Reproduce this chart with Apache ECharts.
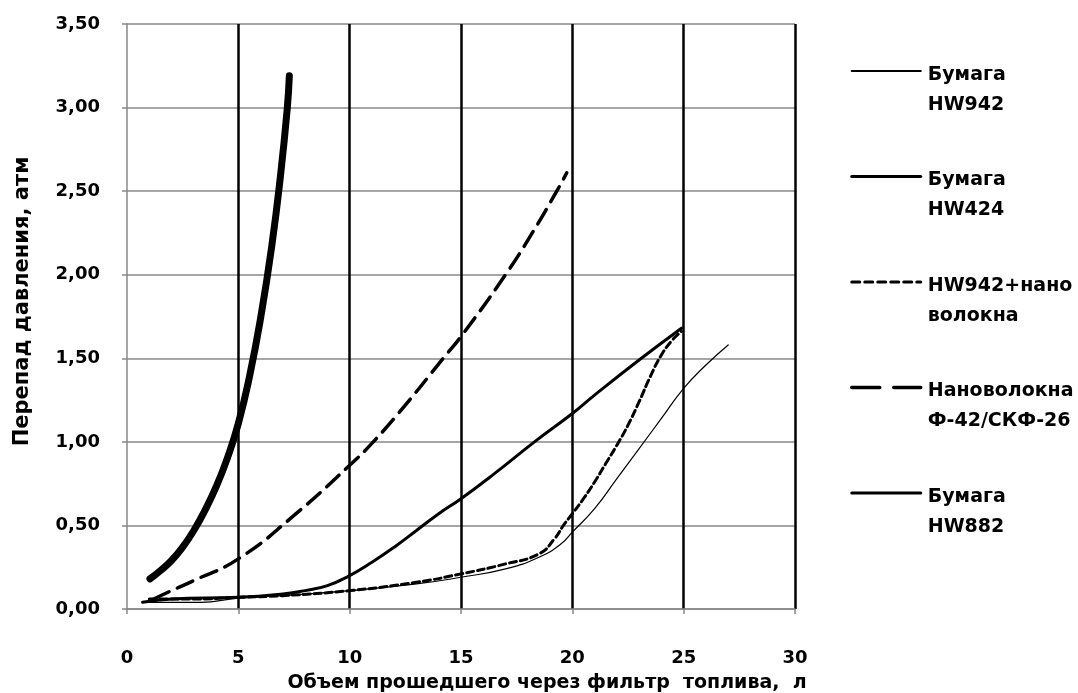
<!DOCTYPE html>
<html>
<head>
<meta charset="utf-8">
<script src="https://cdn.jsdelivr.net/npm/echarts@6/dist/echarts.min.js"></script>
<style>
html,body{margin:0;padding:0;background:#fff;}
#chart{width:1078px;height:693px;}
</style>
</head>
<body>
<div id="chart"></div>
<script>
// ---- data ----
const seriesNames = ['Бумага\nHW942', 'Бумага\nHW424', 'HW942+нано\nволокна', 'Нановолокна\nФ-42/СКФ-26', 'Бумага\nHW882'];
const xTitle = 'Объем прошедшего через фильтр  топлива,  л';
const yTitle = 'Перепад давления, атм';
const yTickLabels = ['0,00', '0,50', '1,00', '1,50', '2,00', '2,50', '3,00', '3,50'];

const hw942 = [[1,0.04],[3.3,0.04],[5,0.065],[7,0.08],[10,0.11],[13,0.15],[15,0.19],[17,0.24],[18.5,0.31],[19.5,0.39],[20,0.46],[21,0.6],[22,0.78],[23,0.96],[24,1.14],[25,1.32],[26,1.46],[27,1.58]];
const hw424 = [[0.7,0.04],[2,0.06],[5,0.07],[7,0.09],[8,0.11],[9,0.14],[10,0.2],[11,0.28],[12,0.37],[13,0.47],[14,0.57],[15,0.66],[16.5,0.81],[18.3,1.0],[20,1.17],[21,1.28],[23.1,1.5],[24.9,1.68]];
const hw942nano = [[1,0.06],[3,0.06],[5,0.07],[7,0.08],[10,0.11],[13,0.16],[15,0.21],[17,0.27],[18.5,0.33],[19.2,0.42],[19.6,0.5],[20,0.57],[20.5,0.66],[21,0.76],[21.5,0.87],[22,0.98],[22.5,1.1],[23,1.24],[23.5,1.39],[24,1.52],[24.5,1.61],[24.9,1.66]];
const nanoF42 = [[1.2,0.06],[2,0.11],[3,0.17],[5,0.3],[7.5,0.56],[10,0.86],[11.06,1.0],[12.5,1.22],[14.2,1.5],[15,1.63],[17,2.0],[18.2,2.25],[19.3,2.5],[19.75,2.61]];
const hw882 = [[1.03,0.18],[1.5,0.23],[2,0.29],[2.5,0.37],[3,0.47],[3.5,0.59],[4,0.73],[4.5,0.9],[5,1.11],[5.5,1.39],[6,1.74],[6.5,2.17],[6.9,2.6],[7.2,3.0],[7.29,3.19]];

const FONT = 'DejaVu Sans';
const chart = echarts.init(document.getElementById('chart'));

function ser(name, data, lw, type) {
  return {
    name: name, type: 'line', data: data, smooth: 0.5, symbol: 'none', showSymbol: false,
    lineStyle: {color: '#000', width: lw, type: type || 'solid', cap: 'round', join: 'round'},
    itemStyle: {color: '#000'},
    emphasis: {disabled: true}
  };
}
function legendItem(name, width, type) {
  return {name: name, itemStyle: {opacity: 0}, lineStyle: {width: width, type: type, color: '#000'}};
}

chart.setOption({
  animation: false,
  backgroundColor: '#fff',
  grid: {left: 127, right: 283, top: 24, bottom: 84, containLabel: false, outerBoundsMode: 'none'},
  legend: {
    orient: 'vertical', left: 850, top: 36, padding: 0,
    itemWidth: 69, itemHeight: 14, itemGap: 27,
    selectedMode: false,
    formatter: function (name) {
      return '{s| }\n' + name.split('\n').map(function (l) { return '{t|' + l + '}'; }).join('\n');
    },
    textStyle: {
      fontFamily: FONT, fontSize: 19, fontWeight: 'bold', color: '#000', padding: [0, 0, 0, 2],
      rich: {
        s: {fontSize: 10, lineHeight: 38},
        t: {fontFamily: FONT, fontSize: 19, fontWeight: 'bold', color: '#000', lineHeight: 30}
      }
    },
    data: [
      legendItem(seriesNames[0], 2, 'solid'),
      legendItem(seriesNames[1], 3, 'solid'),
      legendItem(seriesNames[2], 3, [8, 5]),
      legendItem(seriesNames[3], 3.5, [28, 14]),
      legendItem(seriesNames[4], 3, 'solid')
    ]
  },
  xAxis: {
    type: 'value', min: 0, max: 30, interval: 5,
    name: xTitle, nameLocation: 'middle', nameGap: 59,
    nameTextStyle: {fontFamily: FONT, fontSize: 19, fontWeight: 'bold', color: '#000', lineHeight: 22, padding: [0, 0, 0, 172]},
    axisLine: {show: true, lineStyle: {color: '#888', width: 1.5}},
    axisTick: {show: true, length: 5, lineStyle: {color: '#888', width: 1.5}},
    axisLabel: {margin: 40, fontFamily: FONT, fontSize: 18, fontWeight: 'bold', color: '#000'},
    splitLine: {show: true, showMinLine: false, lineStyle: {color: '#000', width: 2.5}}
  },
  yAxis: {
    type: 'value', min: 0, max: 3.5, interval: 0.5,
    name: yTitle, nameLocation: 'middle', nameGap: 94,
    nameTextStyle: {fontFamily: FONT, fontSize: 21, fontWeight: 'bold', color: '#000', padding: [0, 0, 0, 30]},
    axisLine: {show: true, lineStyle: {color: '#888', width: 1.5}},
    axisTick: {show: true, length: 5, lineStyle: {color: '#888', width: 1.5}},
    axisLabel: {margin: 27, fontFamily: FONT, fontSize: 18, fontWeight: 'bold', color: '#000',
      formatter: function (v) { return yTickLabels[Math.round(v / 0.5)]; }},
    splitLine: {show: true, lineStyle: {color: '#888', width: 1.5}}
  },
  series: [
    ser(seriesNames[0], hw942, 1.2),
    ser(seriesNames[1], hw424, 3),
    ser(seriesNames[2], hw942nano, 3, [7, 4]),
    ser(seriesNames[3], nanoF42, 3.5, [17, 9]),
    ser(seriesNames[4], hw882, 7)
  ]
});
</script>
</body>
</html>
